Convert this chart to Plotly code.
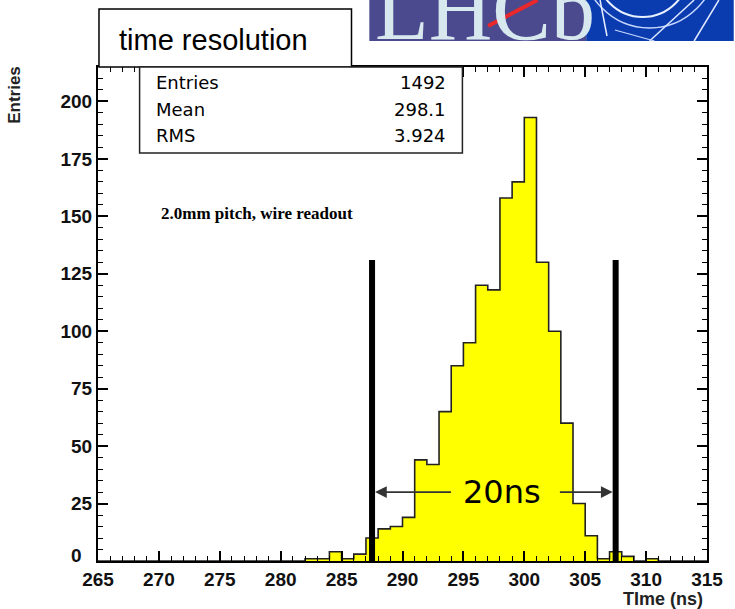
import plotly.graph_objects as go

# ---------------- data ----------------
bin_lefts = list(range(265, 315))
entries = [0, 0, 0, 0, 0, 0, 0, 0, 0, 0,
           0, 0, 0, 0, 0, 0, 0, 1, 1, 4,
           1, 3, 10, 14, 15, 19, 44, 42, 65, 85,
           95, 120, 118, 158, 165, 193, 130, 100, 60, 25,
           11, 1, 4, 2, 0, 1, 0, 0, 0, 0]
x_ticks = [265, 270, 275, 280, 285, 290, 295, 300, 305, 310, 315]
y_ticks = [0, 25, 50, 75, 100, 125, 150, 175, 200]
y_ticktext = ["", "25", "50", "75", "100", "125", "150", "175", "200"]
window_edges = [287.5, 307.5]
window_height = 131
arrow_y = 30
arrow_tails = [294.1, 302.8]
label_20ns_x = 298.2
stats_labels = ["Entries", "Mean", "RMS"]
stats_values = ["1492", "298.1", "3.924"]

# ---------------- layout geometry ----------------
W, H = 735, 609
L, R, T, B = 98, 713, 67, 561


def px(xp):
    return (xp - L) / (R - L)


def py(yp):
    return (B - yp) / (B - T)


x_edges = bin_lefts + [bin_lefts[-1] + 1]
y_step = entries + [entries[-1]]

fig = go.Figure()
fig.add_trace(go.Scatter(
    x=x_edges, y=y_step, mode="lines", line_shape="hv",
    line=dict(color="#222222", width=1.6),
    fill="tozeroy", fillcolor="#ffff00", hoverinfo="skip", showlegend=False))

shapes = []
# window lines
for xe in window_edges:
    shapes.append(dict(type="line", xref="x", yref="y", x0=xe, x1=xe, y0=0,
                       y1=window_height, line=dict(color="black", width=6),
                       layer="above"))
# title box
shapes.append(dict(type="rect", xref="paper", yref="paper", x0=px(99), x1=px(354),
                   y0=py(67), y1=py(9), line=dict(color="black", width=1.5),
                   fillcolor="white"))
# stats box
shapes.append(dict(type="rect", xref="paper", yref="paper", x0=px(140), x1=px(466),
                   y0=py(153), y1=py(67), line=dict(color="#222222", width=1.5),
                   fillcolor="white", layer="above"))
# logo backgrounds
shapes.append(dict(type="rect", xref="paper", yref="paper", x0=px(372), x1=px(591),
                   y0=py(41), y1=py(-2), line=dict(width=0), fillcolor="#4b4a8e"))
shapes.append(dict(type="rect", xref="paper", yref="paper", x0=px(591), x1=px(740),
                   y0=py(41), y1=py(-2), line=dict(width=0), fillcolor="#0a3cb0"))


def circ(cx, cy, r, color, width):
    return dict(type="circle", xref="paper", yref="paper",
                x0=px(cx - r), x1=px(cx + r), y0=py(cy + r), y1=py(cy - r),
                line=dict(color=color, width=width))


def seg(x0, y0, x1, y1, color, width):
    return dict(type="line", xref="paper", yref="paper", x0=px(x0), x1=px(x1),
                y0=py(y0), y1=py(y1), line=dict(color=color, width=width))


shapes.append(circ(648, -30, 47, "#e8f0ff", 2))
shapes.append(circ(655, -40, 68, "#c8d8ff", 1.5))
shapes.append(seg(605, 0, 612, 36, "#e8f0ff", 1.5))
shapes.append(seg(655, 41, 700, 0, "#dde8ff", 1.5))
shapes.append(seg(700, 41, 725, 0, "#dde8ff", 1.5))
shapes.append(seg(620, 30, 660, 41, "#c8d8ff", 1.2))

annotations = []
annotations.append(dict(xref="paper", yref="paper", x=px(376), y=py(10), text="LHCb",
                        showarrow=False, xanchor="left", yanchor="middle",
                        font=dict(family="Liberation Serif", size=88, color="#d8e8ef")))
shapes.append(seg(492, 26, 542, 0, "#e8282a", 4))
annotations.append(dict(xref="paper", yref="paper", x=px(117), y=py(40),
                        text="time resolution", showarrow=False, xanchor="left",
                        yanchor="middle",
                        font=dict(family="Liberation Sans", size=29, color="black")))
row_y = [82, 109, 135]
for lab, val, ry in zip(stats_labels, stats_values, row_y):
    annotations.append(dict(xref="paper", yref="paper", x=px(155), y=py(ry), text=lab,
                            showarrow=False, xanchor="left", yanchor="middle",
                            font=dict(family="DejaVu Sans", size=18, color="black")))
    annotations.append(dict(xref="paper", yref="paper", x=px(451), y=py(ry), text=val,
                            showarrow=False, xanchor="right", yanchor="middle",
                            font=dict(family="DejaVu Sans", size=18, color="black")))
annotations.append(dict(xref="paper", yref="paper", x=px(160), y=py(213),
                        text="<b>2.0mm pitch, wire readout</b>", showarrow=False,
                        xanchor="left", yanchor="middle",
                        font=dict(family="Liberation Serif", size=17, color="black")))
annotations.append(dict(xref="x", yref="y", x=label_20ns_x, y=arrow_y, text="20ns",
                        showarrow=False, xanchor="center", yanchor="middle",
                        font=dict(family="DejaVu Sans", size=32, color="black")))
for head, tail in zip(window_edges, arrow_tails):
    annotations.append(dict(xref="x", yref="y", axref="x", ayref="y", x=head, y=arrow_y,
                            ax=tail, ay=arrow_y, text="", showarrow=True, arrowhead=2,
                            arrowsize=1.3, arrowwidth=1.8, arrowcolor="#333333",
                            standoff=3))
annotations.append(dict(xref="paper", yref="paper", x=px(711), y=py(599),
                        text="TIme (ns)", showarrow=False, xanchor="right",
                        yanchor="middle",
                        font=dict(family="Liberation Sans", size=18, color="#222222",
                                  weight="bold")))
annotations.append(dict(xref="paper", yref="paper", x=px(13), y=py(64),
                        text="Entries", showarrow=False, textangle=-90,
                        xanchor="center", yanchor="top",
                        font=dict(family="Liberation Sans", size=17, color="#222222",
                                  weight="bold")))
# zero label of y axis, sitting slightly above the corner as in the original
annotations.append(dict(xref="paper", yref="paper", x=px(84), y=py(555),
                        text="0", showarrow=False, xanchor="right", yanchor="middle",
                        font=dict(family="Liberation Sans", size=19, color="#111111",
                                  weight="bold")))

axis_common = dict(showline=True, linecolor="black", linewidth=2, mirror="allticks",
                   ticks="inside", ticklen=10, tickwidth=1.5, tickcolor="black",
                   showgrid=False, zeroline=False,
                   tickfont=dict(family="Liberation Sans", size=19, color="#111111",
                                 weight="bold"))

fig.update_layout(
    width=W, height=H,
    margin=dict(l=L, r=W - R, t=T, b=H - B),
    paper_bgcolor="white", plot_bgcolor="white",
    showlegend=False,
    xaxis=dict(range=[265, 315], tickvals=x_ticks,
               minor=dict(dtick=1, ticks="inside", ticklen=5, tickcolor="black",
                          tickwidth=1),
               **axis_common),
    yaxis=dict(range=[0, 215], tickvals=y_ticks, ticktext=y_ticktext,
               minor=dict(dtick=5, ticks="inside", ticklen=5, tickcolor="black",
                          tickwidth=1),
               **axis_common),
    shapes=shapes,
    annotations=annotations,
)

fig.write_html("out.html")
